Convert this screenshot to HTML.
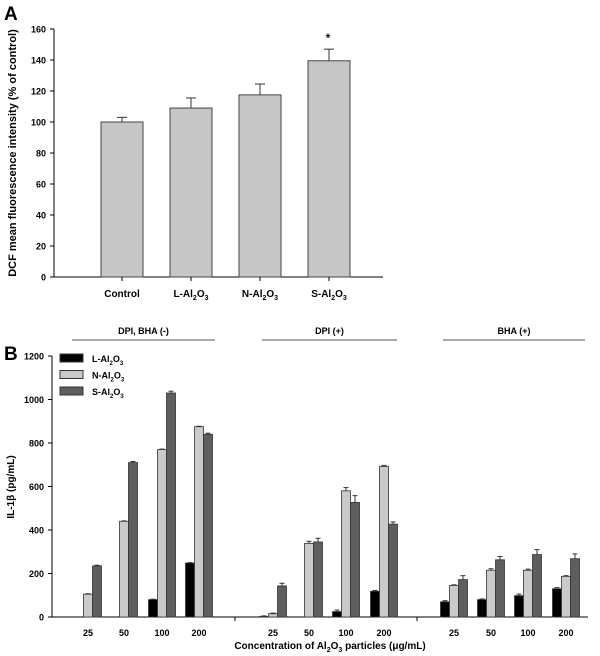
<!DOCTYPE html>
<html><head><meta charset="utf-8"><style>
body{margin:0;background:#fff}
svg{display:block;font-family:"Liberation Sans",sans-serif;font-weight:bold}
</style></head><body>
<svg id="s" width="600" height="656">
<text x="4" y="20" font-size="19">A</text>
<text x="4" y="360" font-size="19">B</text>
<text transform="translate(16,153) rotate(-90)" font-size="11" text-anchor="middle">DCF mean fluorescence intensity (% of control)</text>
<text transform="translate(14,487) rotate(-90)" font-size="10" text-anchor="middle">IL-1β (pg/mL)</text>
<text x="330" y="649" font-size="10" text-anchor="middle">Concentration of Al<tspan font-size="7" dy="3">2</tspan><tspan dy="-3">O</tspan><tspan font-size="7" dy="3">3</tspan><tspan dy="-3"> particles (μg/mL)</tspan></text>
<g id="ga"></g>
<g id="gb"></g>
</svg>
<script>
const NS="http://www.w3.org/2000/svg";
function mk(p,t,a){const e=document.createElementNS(NS,t);for(const k in a)e.setAttribute(k,a[k]);p.appendChild(e);return e;}
// Chart A data
const aCats=["Control","L","N","S"];
const aVals=[100,109,117.5,139.5];
const aErr=[103,115.5,124.5,147];
const aTicks=[0,20,40,60,80,100,120,140,160];
const ga=document.getElementById('ga');
const ay=v=>277-v*1.55, ax=i=>122+i*69;
let l=mk(ga,'line',{x1:54,y1:29,x2:54,y2:277,stroke:'#000'});

l=mk(ga,'line',{x1:54,y1:277,x2:383,y2:277,stroke:'#000'});

aTicks.forEach(t=>{mk(ga,'line',{x1:50,x2:54,y1:ay(t),y2:ay(t),stroke:'#000'});
 const tx=mk(ga,'text',{x:46,y:ay(t)+3.5,'font-size':9,'text-anchor':'end'});tx.textContent=t;
 });
aVals.forEach((v,i)=>{const x=ax(i);
 mk(ga,'line',{x1:x,x2:x,y1:ay(v),y2:ay(aErr[i]),stroke:'#333'});
 mk(ga,'line',{x1:x-5,x2:x+5,y1:ay(aErr[i]),y2:ay(aErr[i]),stroke:'#333'});
 const r=mk(ga,'rect',{x:x-21,y:ay(v),width:42,height:ay(0)-ay(v),fill:'#c6c6c6',stroke:'#444'});
 
 mk(ga,'line',{x1:x,x2:x,y1:277,y2:281,stroke:'#000'});
 const t=mk(ga,'text',{x:x,y:297,'font-size':10,'text-anchor':'middle'});
 t.innerHTML=i==0?'Control':aCats[i]+'-Al<tspan font-size="7" dy="3">2</tspan><tspan dy="-3">O</tspan><tspan font-size="7" dy="3">3</tspan>';
 });
const st=mk(ga,'text',{x:328,y:42,'font-size':12,'text-anchor':'middle'});st.textContent='*';


// Chart B data
const bConc=["25","50","100","200"];
const bGroups=["DPI, BHA (-)","DPI (+)","BHA (+)"];
const bL=[[0,0,80,248],[3,0,25,118],[70,80,98,130]];
const bN=[[105,440,770,875],[15,338,580,692],[145,215,215,187]];
const bS=[[235,710,1030,840],[143,345,527,427],[172,263,287,268]];
const bLe=[[0,0,82,250],[5,0,32,122],[75,83,105,135]];
const bNe=[[107,442,772,877],[18,348,595,697],[148,222,220,190]];
const bSe=[[238,715,1038,845],[155,362,558,437],[190,278,310,290]];
const bTicks=[0,200,400,600,800,1000,1200];
const gb=document.getElementById('gb');
const by=v=>617-v*0.2175;
const groupX=[[88,124,162,199],[273,309,346,384],[454,491,528,566]];
const spans=[[72,215],[262,397],[443,585]];
l=mk(gb,'line',{x1:52,y1:356,x2:52,y2:617,stroke:'#000'});

l=mk(gb,'line',{x1:52,y1:617,x2:588,y2:617,stroke:'#000'});

[235,417].forEach(x=>mk(gb,'line',{x1:x,x2:x,y1:617,y2:621,stroke:'#000'}));
bTicks.forEach(t=>{mk(gb,'line',{x1:48,x2:52,y1:by(t),y2:by(t),stroke:'#000'});
 const tx=mk(gb,'text',{x:44,y:by(t)+3.5,'font-size':9,'text-anchor':'end'});tx.textContent=t;
 });
const series=[[bL,bLe,'#000','l'],[bN,bNe,'#cacaca','n'],[bS,bSe,'#5e5e5e','s']];
bGroups.forEach((g,gi)=>{
 const h=mk(gb,'line',{x1:spans[gi][0],x2:spans[gi][1],y1:340,y2:340,stroke:'#555'});
 
 const ht=mk(gb,'text',{x:(spans[gi][0]+spans[gi][1])/2,y:334,'font-size':9,'text-anchor':'middle'});ht.textContent=g;
 
 bConc.forEach((c,ci)=>{const cx=groupX[gi][ci];
  series.forEach((s,si)=>{const v=s[0][gi][ci],e=s[1][gi][ci],x=cx-13.5+si*9;
   if(e>v){mk(gb,'line',{x1:x+4.5,x2:x+4.5,y1:by(v),y2:by(e),stroke:'#333'});
    mk(gb,'line',{x1:x+2,x2:x+7,y1:by(e),y2:by(e),stroke:'#333'});}
   const r=mk(gb,'rect',{x:x,y:by(v),width:9,height:by(0)-by(v),fill:s[2],stroke:'#333','stroke-width':0.8});
   });
  const t=mk(gb,'text',{x:cx,y:636,'font-size':9,'text-anchor':'middle'});t.textContent=c;
  });});
["L","N","S"].forEach((n,i)=>{const y=354+i*16.5;
 const r=mk(gb,'rect',{x:60,y:y,width:23,height:8,fill:series[i][2],stroke:'#333'});
 
 const t=mk(gb,'text',{x:92,y:y+8,'font-size':9});
 t.innerHTML=n+'-Al<tspan font-size="6" dy="3">2</tspan><tspan dy="-3">O</tspan><tspan font-size="6" dy="3">3</tspan>';
 });
</script>
</body></html>
